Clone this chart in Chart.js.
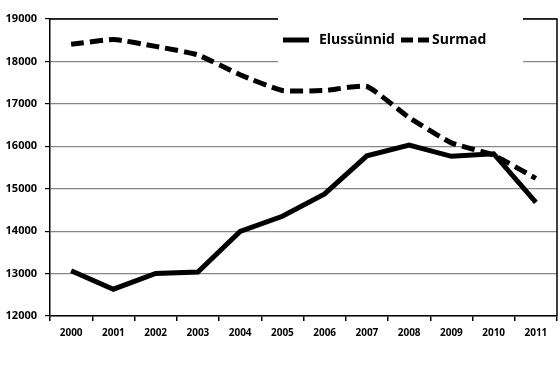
<!DOCTYPE html>
<html>
<head>
<meta charset="utf-8">
<script src="https://cdn.jsdelivr.net/npm/chart.js@4"></script>
<style>
  html, body { margin: 0; padding: 0; background: #fff; }
  #wrap { width: 560px; height: 371px; }
</style>
</head>
<body>
<div id="wrap"><canvas id="chart" width="560" height="371"></canvas></div>
<script>
const years = ['2000', '2001', '2002', '2003', '2004', '2005', '2006', '2007', '2008', '2009', '2010', '2011'];
const births = [13067, 12632, 13001, 13036, 13992, 14350, 14877, 15775, 16028, 15763, 15825, 14679];
const deaths = [18403, 18516, 18355, 18152, 17685, 17316, 17316, 17409, 16675, 16081, 15790, 15244];
const seriesNames = ['Elussünnid', 'Surmad'];

const FONT = '"Open Sans", "Liberation Sans", sans-serif';

// black frame around the plot area
const framePlugin = {
    id: 'frame',
    beforeDatasetsDraw(chart) {
        const a = chart.chartArea;
        const ctx = chart.ctx;
        ctx.save();
        ctx.strokeStyle = '#000';
        ctx.lineWidth = 1.5;
        ctx.beginPath();
        ctx.moveTo(a.left, a.top);
        ctx.lineTo(a.right, a.top);
        ctx.lineTo(a.right, a.bottom);
        ctx.stroke();
        ctx.restore();
    }
};

// legend box inside the plot, like the Excel original
const legendPlugin = {
    id: 'boxLegend',
    afterDraw(chart) {
        const ctx = chart.ctx;
        const y = 40;
        ctx.save();
        ctx.fillStyle = '#fff';
        ctx.fillRect(278, 10, 245, 53);

        ctx.strokeStyle = '#000';
        ctx.lineWidth = 5;
        ctx.setLineDash([]);
        ctx.beginPath();
        ctx.moveTo(283, y);
        ctx.lineTo(309, y);
        ctx.stroke();

        ctx.setLineDash([12, 5]);
        ctx.beginPath();
        ctx.moveTo(401, y);
        ctx.lineTo(429, y);
        ctx.stroke();

        ctx.fillStyle = '#000';
        ctx.font = 'bold 14px ' + FONT;
        ctx.textBaseline = 'middle';
        ctx.textAlign = 'left';
        ctx.fillText(seriesNames[0], 319, y);
        ctx.fillText(seriesNames[1], 432, y);
        ctx.restore();
    }
};

new Chart(document.getElementById('chart'), {
    type: 'line',
    data: {
        labels: years,
        datasets: [
            {
                label: seriesNames[0],
                data: births,
                borderColor: '#000',
                borderWidth: 5,
                pointRadius: 0,
                tension: 0,
                fill: false
            },
            {
                label: seriesNames[1],
                data: deaths,
                borderColor: '#000',
                borderWidth: 5,
                borderDash: [13, 6],
                pointRadius: 0,
                tension: 0.15,
                fill: false
            }
        ]
    },
    options: {
        responsive: false,
        animation: false,
        layout: { padding: { top: 19, right: 3, left: 0, bottom: 0 } },
        plugins: {
            legend: { display: false },
            tooltip: { enabled: false }
        },
        scales: {
            x: {
                offset: true,
                grid: {
                    display: true,
                    drawOnChartArea: false,
                    offset: true,
                    tickLength: 5,
                    tickColor: '#000',
                    lineWidth: 1.5
                },
                border: { color: '#000', width: 1.5 },
                ticks: {
                    color: '#000',
                    padding: 6,
                    maxRotation: 0,
                    font: { family: FONT, size: 10, weight: 'bold' }
                },
                afterFit(scale) { scale.height = 55; }
            },
            y: {
                min: 12000,
                max: 19000,
                ticks: {
                    stepSize: 1000,
                    color: '#000',
                    padding: 8,
                    font: { family: FONT, size: 11, weight: 'bold' },
                    callback: v => String(v)
                },
                grid: {
                    color: '#868686',
                    lineWidth: 1.2,
                    tickLength: 5,
                    tickColor: '#000'
                },
                border: { color: '#000', width: 1.5 },
                afterFit(scale) { scale.width = 50; }
            }
        }
    },
    plugins: [framePlugin, legendPlugin]
});
</script>
</body>
</html>
